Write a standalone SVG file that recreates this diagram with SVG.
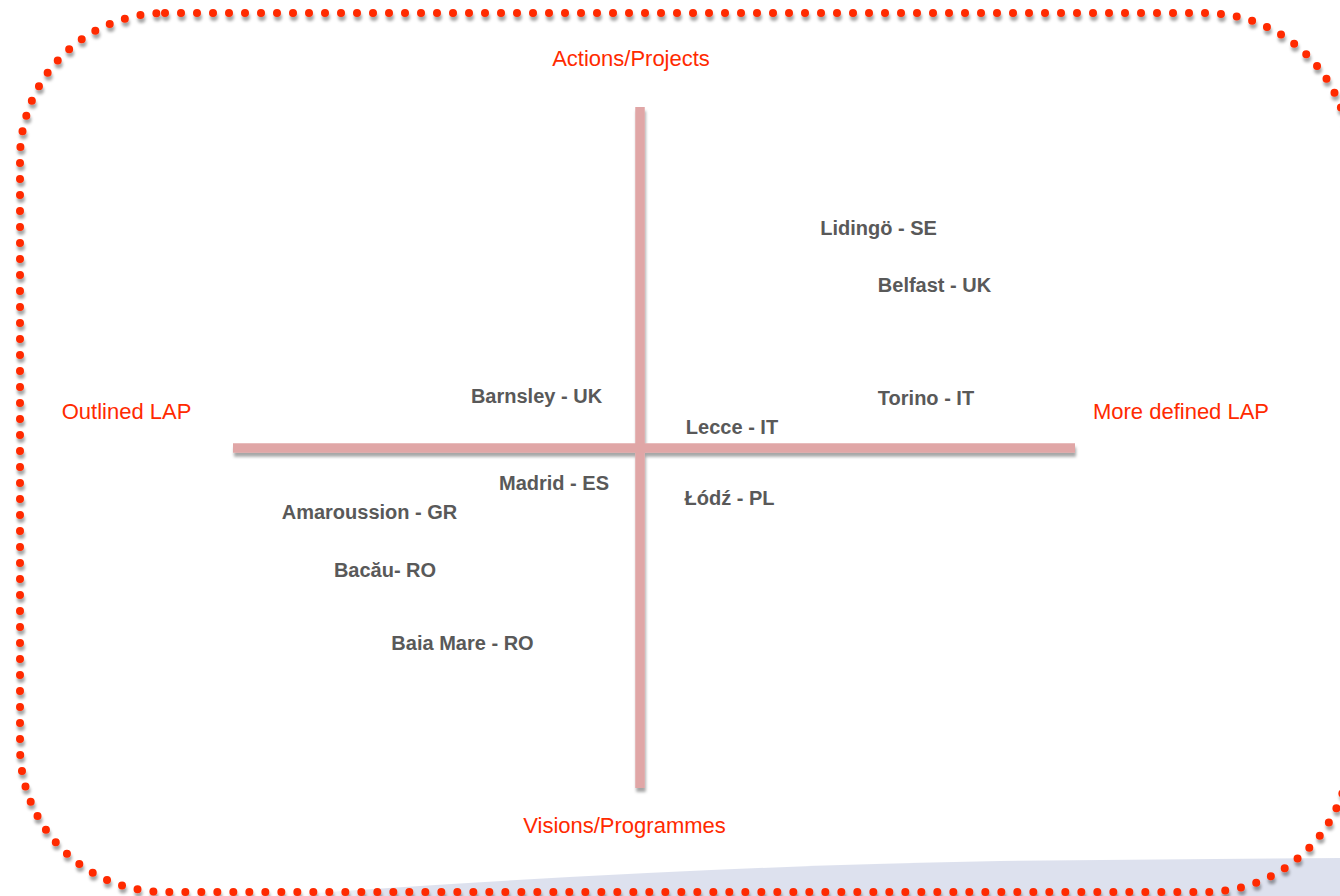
<svg xmlns="http://www.w3.org/2000/svg" width="1340" height="896" viewBox="0 0 1340 896">
  <defs>
    <filter id="shadow" x="-10%" y="-10%" width="120%" height="130%">
      <feDropShadow dx="1" dy="4" stdDeviation="1.6" flood-color="#000" flood-opacity="0.35"/>
    </filter>
    <linearGradient id="band" x1="0" y1="0" x2="1" y2="0">
      <stop offset="0" stop-color="#DDE1EE" stop-opacity="0"/>
      <stop offset="0.08" stop-color="#DDE1EE" stop-opacity="1"/>
      <stop offset="1" stop-color="#DDE1EE"/>
    </linearGradient>
    <style>
      .frame { fill: none; stroke: #FF2A00; stroke-width: 8; stroke-linecap: round; stroke-dasharray: 0 16; }
      .axis { stroke: #E0A6A6; stroke-width: 9.5; }
      .axislbl { font-family: "Liberation Sans", Arial, sans-serif; font-size: 22px; fill: #FF2A00; text-anchor: middle; }
      .city { font-family: "Liberation Sans", Arial, sans-serif; font-size: 20px; font-weight: bold; fill: #595959; text-anchor: middle; }
    </style>
  </defs>
  <rect width="1340" height="896" fill="#FFFFFF"/>
  <path d="M 300,894 Q 700,866 1000,861 L 1340,858 L 1340,896 L 300,896 Z" fill="url(#band)"/>
  <g id="frame">
    <rect class="frame" x="20" y="13" width="1330" height="879" rx="145" ry="145" filter="url(#shadow)"/>
  </g>
  <g id="connectors" filter="url(#shadow)">
    <line class="axis" x1="640" y1="107" x2="640" y2="788"/>
    <line class="axis" x1="233" y1="448" x2="1075" y2="448"/>
  </g>
  <g id="axis-top"><text class="axislbl" x="631" y="66">Actions/Projects</text></g>
  <g id="axis-left"><text class="axislbl" x="126.5" y="419">Outlined LAP</text></g>
  <g id="axis-right"><text class="axislbl" x="1181" y="419">More defined LAP</text></g>
  <g id="axis-bottom"><text class="axislbl" x="624.5" y="833">Visions/Programmes</text></g>
  <g id="lidingo"><text class="city" x="878.5" y="235">Lidingö - SE</text></g>
  <g id="belfast"><text class="city" x="934.5" y="292">Belfast - UK</text></g>
  <g id="barnsley"><text class="city" x="536.5" y="403">Barnsley - UK</text></g>
  <g id="torino"><text class="city" x="926" y="405">Torino - IT</text></g>
  <g id="lecce"><text class="city" x="732" y="434">Lecce - IT</text></g>
  <g id="madrid"><text class="city" x="554" y="490">Madrid - ES</text></g>
  <g id="lodz"><text class="city" x="729.5" y="505">Łódź - PL</text></g>
  <g id="amaroussion"><text class="city" x="369.5" y="519">Amaroussion - GR</text></g>
  <g id="bacau"><text class="city" x="385" y="577">Bacău- RO</text></g>
  <g id="baiamare"><text class="city" x="462.5" y="650">Baia Mare - RO</text></g>
</svg>
